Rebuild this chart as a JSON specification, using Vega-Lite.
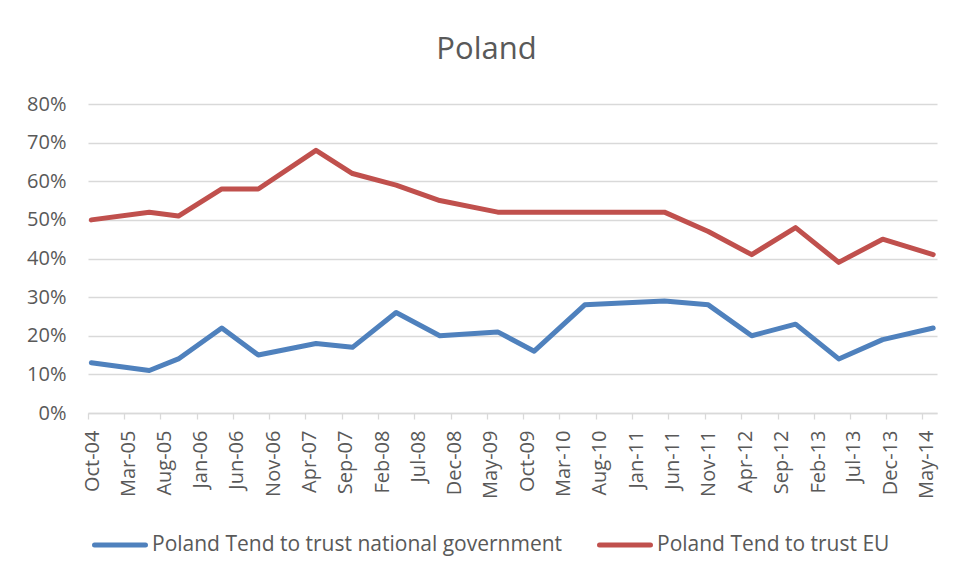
{
  "$schema": "https://vega.github.io/schema/vega-lite/v6.json",
  "width": 849,
  "height": 309,
  "autosize": {"type": "none"},
  "padding": {"left": 88, "top": 104, "right": 19, "bottom": 167},
  "background": "white",
  "title": {"text": "Poland", "fontSize": 31, "font": "Open Sans", "fontWeight": "normal", "color": "#595959", "frame": "group", "anchor": "middle", "dx": -26, "offset": 28},
  "config": {"view": {"stroke": null}, "font": "Open Sans"},
  "data": {"values": [
    {"date": "2004-10-15", "series": "Poland Tend to trust national government", "value": 0.13},
    {"date": "2005-06-15", "series": "Poland Tend to trust national government", "value": 0.11},
    {"date": "2005-10-15", "series": "Poland Tend to trust national government", "value": 0.14},
    {"date": "2006-04-15", "series": "Poland Tend to trust national government", "value": 0.22},
    {"date": "2006-09-15", "series": "Poland Tend to trust national government", "value": 0.15},
    {"date": "2007-05-15", "series": "Poland Tend to trust national government", "value": 0.18},
    {"date": "2007-10-15", "series": "Poland Tend to trust national government", "value": 0.17},
    {"date": "2008-04-15", "series": "Poland Tend to trust national government", "value": 0.26},
    {"date": "2008-10-15", "series": "Poland Tend to trust national government", "value": 0.20},
    {"date": "2009-06-15", "series": "Poland Tend to trust national government", "value": 0.21},
    {"date": "2009-11-15", "series": "Poland Tend to trust national government", "value": 0.16},
    {"date": "2010-06-15", "series": "Poland Tend to trust national government", "value": 0.28},
    {"date": "2011-05-15", "series": "Poland Tend to trust national government", "value": 0.29},
    {"date": "2011-11-15", "series": "Poland Tend to trust national government", "value": 0.28},
    {"date": "2012-05-15", "series": "Poland Tend to trust national government", "value": 0.20},
    {"date": "2012-11-15", "series": "Poland Tend to trust national government", "value": 0.23},
    {"date": "2013-05-15", "series": "Poland Tend to trust national government", "value": 0.14},
    {"date": "2013-11-15", "series": "Poland Tend to trust national government", "value": 0.19},
    {"date": "2014-06-15", "series": "Poland Tend to trust national government", "value": 0.22},
    {"date": "2004-10-15", "series": "Poland Tend to trust EU", "value": 0.50},
    {"date": "2005-06-15", "series": "Poland Tend to trust EU", "value": 0.52},
    {"date": "2005-10-15", "series": "Poland Tend to trust EU", "value": 0.51},
    {"date": "2006-04-15", "series": "Poland Tend to trust EU", "value": 0.58},
    {"date": "2006-09-15", "series": "Poland Tend to trust EU", "value": 0.58},
    {"date": "2007-05-15", "series": "Poland Tend to trust EU", "value": 0.68},
    {"date": "2007-10-15", "series": "Poland Tend to trust EU", "value": 0.62},
    {"date": "2008-04-15", "series": "Poland Tend to trust EU", "value": 0.59},
    {"date": "2008-10-15", "series": "Poland Tend to trust EU", "value": 0.55},
    {"date": "2009-06-15", "series": "Poland Tend to trust EU", "value": 0.52},
    {"date": "2009-11-15", "series": "Poland Tend to trust EU", "value": 0.52},
    {"date": "2010-06-15", "series": "Poland Tend to trust EU", "value": 0.52},
    {"date": "2011-05-15", "series": "Poland Tend to trust EU", "value": 0.52},
    {"date": "2011-11-15", "series": "Poland Tend to trust EU", "value": 0.47},
    {"date": "2012-05-15", "series": "Poland Tend to trust EU", "value": 0.41},
    {"date": "2012-11-15", "series": "Poland Tend to trust EU", "value": 0.48},
    {"date": "2013-05-15", "series": "Poland Tend to trust EU", "value": 0.39},
    {"date": "2013-11-15", "series": "Poland Tend to trust EU", "value": 0.45},
    {"date": "2014-06-15", "series": "Poland Tend to trust EU", "value": 0.41}
  ]},
  "mark": {"type": "line", "strokeWidth": 5, "strokeCap": "round", "strokeJoin": "round"},
  "encoding": {
    "x": {
      "field": "date",
      "type": "temporal",
      "scale": {"type": "utc", "domain": [
        {"year": 2004, "month": "Oct", "date": 1, "utc": true},
        {"year": 2014, "month": "Jul", "date": 1, "utc": true}
      ]},
      "axis": {
        "values": [
          {"year": 2004, "month": "Oct", "date": 1, "utc": true},
          {"year": 2005, "month": "Mar", "date": 1, "utc": true},
          {"year": 2005, "month": "Aug", "date": 1, "utc": true},
          {"year": 2006, "month": "Jan", "date": 1, "utc": true},
          {"year": 2006, "month": "Jun", "date": 1, "utc": true},
          {"year": 2006, "month": "Nov", "date": 1, "utc": true},
          {"year": 2007, "month": "Apr", "date": 1, "utc": true},
          {"year": 2007, "month": "Sep", "date": 1, "utc": true},
          {"year": 2008, "month": "Feb", "date": 1, "utc": true},
          {"year": 2008, "month": "Jul", "date": 1, "utc": true},
          {"year": 2008, "month": "Dec", "date": 1, "utc": true},
          {"year": 2009, "month": "May", "date": 1, "utc": true},
          {"year": 2009, "month": "Oct", "date": 1, "utc": true},
          {"year": 2010, "month": "Mar", "date": 1, "utc": true},
          {"year": 2010, "month": "Aug", "date": 1, "utc": true},
          {"year": 2011, "month": "Jan", "date": 1, "utc": true},
          {"year": 2011, "month": "Jun", "date": 1, "utc": true},
          {"year": 2011, "month": "Nov", "date": 1, "utc": true},
          {"year": 2012, "month": "Apr", "date": 1, "utc": true},
          {"year": 2012, "month": "Sep", "date": 1, "utc": true},
          {"year": 2013, "month": "Feb", "date": 1, "utc": true},
          {"year": 2013, "month": "Jul", "date": 1, "utc": true},
          {"year": 2013, "month": "Dec", "date": 1, "utc": true},
          {"year": 2014, "month": "May", "date": 1, "utc": true}
        ],
        "labelExpr": "utcFormat(datum.value, '%b-%y')",
        "labelAngle": -90,
        "labelFontSize": 20,
        "labelColor": "#595959",
        "labelPadding": 11,
        "labelOffset": 4,
        "labelOverlap": false,
        "labelFlush": false,
        "labelBound": false,
        "tickSize": 6,
        "tickColor": "#D9D9D9",
        "tickWidth": 1.3,
        "domainColor": "#D9D9D9",
        "domainWidth": 1.3,
        "grid": false,
        "title": null
      }
    },
    "y": {
      "field": "value",
      "type": "quantitative",
      "scale": {"domain": [0, 0.8]},
      "axis": {
        "values": [0, 0.1, 0.2, 0.3, 0.4, 0.5, 0.6, 0.7, 0.8],
        "format": ".0%",
        "grid": true,
        "gridColor": "#D9D9D9",
        "gridWidth": 1.3,
        "domain": false,
        "ticks": false,
        "labelPadding": 22,
        "labelFontSize": 20,
        "labelColor": "#595959",
        "title": null
      }
    },
    "color": {
      "field": "series",
      "type": "nominal",
      "scale": {
        "domain": ["Poland Tend to trust national government", "Poland Tend to trust EU"],
        "range": ["#4F81BD", "#C0504D"]
      },
      "legend": {
        "orient": "none",
        "legendX": 4,
        "legendY": 413,
        "direction": "horizontal",
        "title": null,
        "symbolType": "stroke",
        "symbolSize": 2600,
        "symbolStrokeWidth": 5,
        "labelFontSize": 21,
        "labelColor": "#595959",
        "labelLimit": 700,
        "labelOffset": 4,
        "columnPadding": 26,
        "encode": {"symbols": {"update": {"strokeCap": {"value": "round"}}}}
      }
    }
  }
}
